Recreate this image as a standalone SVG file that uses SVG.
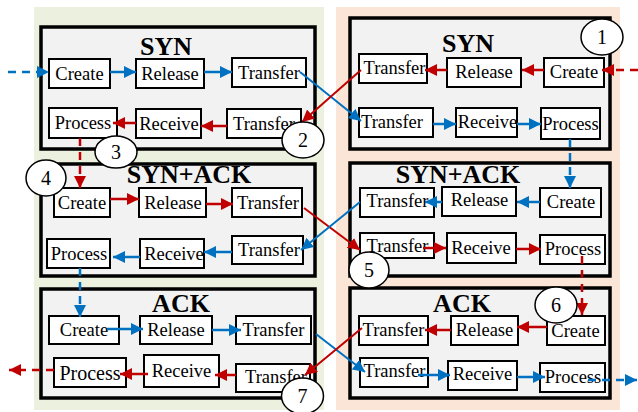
<svg xmlns="http://www.w3.org/2000/svg" width="638" height="412" viewBox="0 0 638 412">
<style>
.frame{fill:#f2f2f2;stroke:#000;stroke-width:3.5}
.n rect{fill:#fff;stroke:#000;stroke-width:2}
.t{font-family:"Liberation Serif","Times New Roman",serif;font-size:18.5px;text-anchor:middle;fill:#000}
.title{font-family:"Liberation Serif","Times New Roman",serif;font-size:26px;font-weight:bold;text-anchor:middle;fill:#000}
.b{fill:none;stroke:#0070c0;stroke-width:2.5;marker-end:url(#ab)}
.r{fill:none;stroke:#c00000;stroke-width:2.5;marker-end:url(#ar)}
.d{stroke-dasharray:8 6}
.dg{stroke-width:2}
.c ellipse{fill:#fff;stroke:#000;stroke-width:1.5}
.c text{font-family:"Liberation Serif","Times New Roman",serif;font-size:20px;text-anchor:middle;fill:#000}
</style>
<defs>
<marker id="ab" viewBox="0 0 12 12" refX="12" refY="6" markerWidth="12" markerHeight="12" markerUnits="userSpaceOnUse" orient="auto"><path d="M0,0 L12,6 L0,12 z" fill="#0070c0"/></marker>
<marker id="ar" viewBox="0 0 12 12" refX="12" refY="6" markerWidth="12" markerHeight="12" markerUnits="userSpaceOnUse" orient="auto"><path d="M0,0 L12,6 L0,12 z" fill="#c00000"/></marker>
</defs>
<rect x="0" y="0" width="638" height="412" fill="#fff"/>
<rect x="34" y="7" width="290" height="403" fill="#ebf1de"/>
<rect x="336" y="7" width="284" height="403" fill="#fbe5d6"/>

<g id="frame-left-syn"><rect class="frame" x="41" y="27" width="274" height="122"/><text class="title" x="166" y="55">SYN</text></g>
<g id="frame-left-synack"><rect class="frame" x="41" y="164" width="274" height="112"/><text class="title" x="189" y="183">SYN+ACK</text></g>
<g id="frame-left-ack"><rect class="frame" x="41" y="289" width="274" height="109"/><text class="title" x="181" y="312">ACK</text></g>
<g id="frame-right-syn"><rect class="frame" x="350" y="18" width="260" height="131"/><text class="title" x="468" y="52">SYN</text></g>
<g id="frame-right-synack"><rect class="frame" x="350" y="163" width="260" height="113"/><text class="title" x="458" y="183">SYN+ACK</text></g>
<g id="frame-right-ack"><rect class="frame" x="350" y="288" width="260" height="110"/><text class="title" x="462" y="312">ACK</text></g>

<g id="ls-create" class="n"><rect x="49" y="59" width="61" height="29"/><text class="t" x="79.5" y="80">Create</text></g>
<g id="ls-release" class="n"><rect x="136" y="59" width="68" height="29"/><text class="t" x="170" y="80">Release</text></g>
<g id="ls-transfer1" class="n"><rect x="232" y="58" width="74" height="29"/><text class="t" x="269" y="79">Transfer</text></g>
<g id="ls-transfer2" class="n"><rect x="227" y="109" width="74" height="29"/><text class="t" x="264" y="130">Transfer</text></g>
<g id="ls-receive" class="n"><rect x="136" y="109" width="65" height="29"/><text class="t" x="169" y="130">Receive</text></g>
<g id="ls-process" class="n"><rect x="49" y="108" width="68" height="30"/><text class="t" x="83" y="129">Process</text></g>

<g id="lsa-create" class="n"><rect x="54" y="188" width="56" height="29"/><text class="t" x="82" y="208.5">Create</text></g>
<g id="lsa-release" class="n"><rect x="139" y="188" width="67" height="29"/><text class="t" x="173" y="208.5">Release</text></g>
<g id="lsa-transfer1" class="n"><rect x="232" y="188" width="70" height="29"/><text class="t" x="268" y="208.5">Transfer</text></g>
<g id="lsa-transfer2" class="n"><rect x="232" y="236" width="71" height="28"/><text class="t" x="269" y="256">Transfer</text></g>
<g id="lsa-receive" class="n"><rect x="140" y="239" width="64" height="29"/><text class="t" x="174" y="259.5">Receive</text></g>
<g id="lsa-process" class="n"><rect x="47" y="239" width="63" height="29"/><text class="t" x="79" y="259.5">Process</text></g>

<g id="la-create" class="n"><rect x="49" y="316" width="70" height="28"/><text class="t" x="84" y="336">Create</text></g>
<g id="la-release" class="n"><rect x="140" y="316" width="72" height="28"/><text class="t" x="176" y="336">Release</text></g>
<g id="la-transfer1" class="n"><rect x="236" y="316" width="75" height="28"/><text class="t" x="273.5" y="336">Transfer</text></g>
<g id="la-transfer2" class="n"><rect x="236" y="364" width="74" height="28"/><text class="t" x="276" y="383">Transfer</text></g>
<g id="la-receive" class="n"><rect x="144" y="355" width="75" height="32"/><text class="t" x="181.5" y="377">Receive</text></g>
<g id="la-process" class="n"><rect x="54" y="358" width="72" height="29"/><text class="t" x="90" y="379.5" style="font-size:20px">Process</text></g>

<g id="rs-create" class="n"><rect x="544" y="58" width="60" height="29"/><text class="t" x="574" y="77.5">Create</text></g>
<g id="rs-release" class="n"><rect x="447" y="58" width="74" height="29"/><text class="t" x="484" y="77.5">Release</text></g>
<g id="rs-transfer1" class="n"><rect x="359" y="54" width="68" height="29"/><text class="t" x="394.5" y="74">Transfer</text></g>
<g id="rs-transfer2" class="n"><rect x="359" y="108" width="74" height="29"/><text class="t" x="392" y="128">Transfer</text></g>
<g id="rs-receive" class="n"><rect x="456" y="108" width="61" height="29"/><text class="t" x="487.5" y="128">Receive</text></g>
<g id="rs-process" class="n"><rect x="541" y="108" width="59" height="31"/><text class="t" x="570.5" y="130">Process</text></g>

<g id="rsa-create" class="n"><rect x="540" y="188" width="61" height="29"/><text class="t" x="571" y="208">Create</text></g>
<g id="rsa-release" class="n"><rect x="442" y="187" width="74" height="29"/><text class="t" x="479.5" y="206">Release</text></g>
<g id="rsa-transfer1" class="n"><rect x="360" y="188" width="74" height="29"/><text class="t" x="397.5" y="207">Transfer</text></g>
<g id="rsa-transfer2" class="n"><rect x="360" y="233" width="74" height="25"/><text class="t" x="397.5" y="252">Transfer</text></g>
<g id="rsa-receive" class="n"><rect x="447" y="233" width="69" height="30"/><text class="t" x="481" y="254">Receive</text></g>
<g id="rsa-process" class="n"><rect x="540" y="235" width="65" height="29"/><text class="t" x="573" y="255">Process</text></g>

<g id="ra-create" class="n"><rect x="547" y="316" width="58" height="29"/><text class="t" x="575.5" y="337">Create</text></g>
<g id="ra-release" class="n"><rect x="451" y="316" width="67" height="29"/><text class="t" x="484.5" y="336">Release</text></g>
<g id="ra-transfer1" class="n"><rect x="359" y="316" width="69" height="29"/><text class="t" x="393.5" y="336">Transfer</text></g>
<g id="ra-transfer2" class="n"><rect x="360" y="358" width="68" height="29"/><text class="t" x="394.5" y="377">Transfer</text></g>
<g id="ra-receive" class="n"><rect x="448" y="361" width="69" height="29"/><text class="t" x="482.5" y="380">Receive</text></g>
<g id="ra-process" class="n"><rect x="540" y="363" width="65" height="29"/><text class="t" x="573" y="383">Process</text></g>

<g id="connectors">
<path class="b d" d="M8,72 H49"/>
<path class="b" d="M110,72 H136"/>
<path class="b" d="M204,72 H232"/>
<path class="b dg" d="M300,72 L361,121"/>
<path class="r dg" d="M361,70 L302,122"/>
<path class="r" d="M227,126 H201"/>
<path class="r" d="M136,123 H113"/>
<path class="r d" d="M80,138 V188"/>

<path class="r" d="M110,199 H139"/>
<path class="r" d="M206,204 H233"/>
<path class="r dg" d="M304,208 L360,250"/>
<path class="b dg" d="M360,202 L301,250"/>
<path class="b" d="M232,252 H204"/>
<path class="b" d="M140,257 H113"/>
<path class="b d" d="M80,268 V317"/>

<path class="b" d="M107,329 H143"/>
<path class="b" d="M212,330 H241"/>
<path class="b dg" d="M316,334 L365,372"/>
<path class="r dg" d="M362,328 L305,375"/>
<path class="r" d="M236,375 H215"/>
<path class="r" d="M148,374 H120"/>
<path class="r d" d="M54,370 H9"/>

<path class="r d" d="M638,70 H602"/>
<path class="r" d="M544,70 H522"/>
<path class="r" d="M447,70 H425"/>
<path class="b" d="M433,124 H456"/>
<path class="b" d="M517,124 H541"/>
<path class="b d" d="M570,139 V188"/>

<path class="b" d="M540,202 H517"/>
<path class="b" d="M442,202 H425"/>
<path class="r" d="M423,248 H446"/>
<path class="r" d="M516,249 H541"/>
<path class="r d" d="M582,256 V315"/>

<path class="r" d="M547,327 H517"/>
<path class="r" d="M451,330 H425"/>
<path class="b" d="M418,375 H450"/>
<path class="b" d="M517,377 H545"/>
<path class="b d" d="M588,380 H637"/>
</g>

<g id="step-1" class="c"><ellipse cx="602" cy="37" rx="21" ry="18"/><text x="602" y="44">1</text></g>
<g id="step-2" class="c"><ellipse cx="303" cy="140" rx="21" ry="18"/><text x="303" y="147">2</text></g>
<g id="step-3" class="c"><ellipse cx="116" cy="152" rx="21" ry="16"/><text x="116" y="159">3</text></g>
<g id="step-4" class="c"><ellipse cx="46" cy="178" rx="20" ry="18"/><text x="46" y="185">4</text></g>
<g id="step-5" class="c"><ellipse cx="369" cy="270" rx="20" ry="18"/><text x="369" y="277">5</text></g>
<g id="step-6" class="c"><ellipse cx="556" cy="305" rx="21" ry="18"/><text x="556" y="312">6</text></g>
<g id="step-7" class="c"><ellipse cx="302.5" cy="396" rx="21" ry="18"/><text x="302.5" y="403">7</text></g>
</svg>
